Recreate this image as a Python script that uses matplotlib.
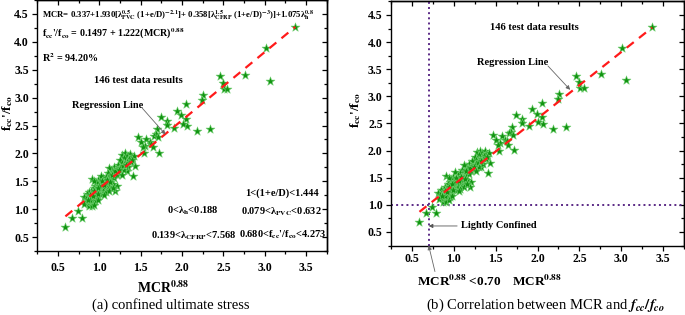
import matplotlib
matplotlib.use("Agg")
import matplotlib.pyplot as plt
import numpy as np
from matplotlib.ticker import MultipleLocator

plt.rcParams["font.family"] = ["Liberation Serif", "DejaVu Serif"]
plt.rcParams["font.weight"] = "bold"
plt.rcParams["mathtext.fontset"] = "stix"

# MCR^0.88 values and normalised confined stress f'cc/f'co (146 specimens)
mcr88 = [
    3.37, 3.01, 3.06, 2.76, 2.46, 2.49, 2.51, 2.55, 2.26, 2.24,
    2.05, 1.94, 1.99, 2.05, 2.06, 2.01, 2.18, 2.34, 1.90, 1.74,
    1.82, 1.82, 1.70, 1.68, 1.66, 1.71, 1.47, 1.51, 1.57, 1.61,
    1.55, 1.63, 1.53, 1.65, 1.72, 1.54,
    0.59, 0.67, 0.79, 0.74,
    1.28, 1.31, 1.34, 1.37, 1.39, 1.36, 1.30, 1.25, 1.42, 1.33, 1.27,
    1.43, 1.41, 1.33, 1.22, 1.18, 1.20, 1.25, 1.29, 1.15, 1.12,
    1.17, 1.23, 1.30, 1.35, 1.10, 1.13, 1.08, 1.21,
    1.05, 1.02, 0.99, 1.06, 1.10, 1.14, 1.18, 1.21, 1.19, 1.16,
    1.03, 1.00, 0.97, 1.08, 1.12, 0.95, 1.01, 1.04, 0.91, 0.94, 1.07, 1.11,
    0.93, 0.96, 0.99, 1.02, 1.05, 0.90, 0.88, 0.92, 0.95, 0.98,
    1.01, 0.85, 0.87, 0.90, 0.93, 0.96, 1.00, 1.04, 0.97, 0.94,
    0.81, 0.84, 0.89, 1.08, 1.12,
    0.87, 0.90, 0.92, 0.88, 0.87, 0.91, 0.95, 0.85, 0.82, 0.94, 0.89, 0.98,
    1.00, 1.03, 1.06, 0.98, 1.09, 1.13, 1.15, 1.19, 1.24, 1.27,
    1.32, 1.38, 1.40, 0.92, 0.86, 0.99, 1.06, 1.16,
]
stress_ratio = [
    4.27, 3.89, 3.30, 3.41, 3.38, 3.26, 3.15, 3.15, 3.04, 2.95,
    2.88, 2.76, 2.68, 2.61, 2.49, 2.53, 2.40, 2.43, 2.46, 2.65,
    2.58, 2.51, 2.44, 2.35, 2.32, 2.29, 2.29, 2.20, 2.26, 2.20,
    2.14, 2.17, 2.11, 2.11, 2.01, 2.00,
    0.68, 0.85, 0.85, 0.96,
    1.98, 2.00, 1.96, 1.99, 1.93, 1.90, 1.92, 1.88, 1.95, 1.85, 1.82,
    1.77, 1.59, 1.69, 1.80, 1.76, 1.72, 1.74, 1.78, 1.70, 1.73,
    1.66, 1.66, 1.70, 1.75, 1.64, 1.60, 1.58, 1.62,
    1.55, 1.60, 1.52, 1.48, 1.50, 1.54, 1.56, 1.42, 1.33, 1.45,
    1.44, 1.45, 1.47, 1.42, 1.40, 1.42, 1.40, 1.38, 1.54, 1.50, 1.36, 1.45,
    1.38, 1.35, 1.33, 1.30, 1.32, 1.33, 1.30, 1.28, 1.26, 1.24,
    1.27, 1.27, 1.22, 1.20, 1.18, 1.21, 1.36, 1.41, 1.30, 1.32,
    1.21, 1.18, 1.25, 1.30, 1.33,
    1.15, 1.12, 1.10, 1.08, 1.06, 1.06, 1.14, 1.12, 1.10, 1.08, 1.17, 1.17,
    1.42, 1.50, 1.44, 1.38, 1.52, 1.48, 1.62, 1.68, 1.70, 1.62,
    1.80, 1.84, 1.88, 1.24, 1.16, 1.28, 1.26, 1.38,
]

# regression f'cc/f'co = a + b * MCR^0.88
reg_a, reg_b = 0.1497, 1.222
reg_range = [0.59, 3.37]
mcr_limit = 0.70
ratio_limit = 1.0

W, H = 685, 315


def fx(px):
    return px / W


def fy(py):
    return 1 - py / H


fig = plt.figure(figsize=(6.85, 3.15), dpi=100)
ax_a = fig.add_axes([fx(37.3), fy(251), fx(326.7) - fx(37.3), fy(0) - fy(251)])
ax_b = fig.add_axes([fx(391), fy(245.5), fx(684) - fx(391), fy(1.4) - fy(245.5)])


def draw_panel(ax, label_pad):
    xr = np.array(reg_range)
    ax.scatter(mcr88, stress_ratio, marker="*", s=45, c="#129412",
               edgecolors="#6fcf6f", linewidths=0.4, zorder=2)
    ax.plot(xr, reg_a + reg_b * xr, color="#ff1a1a", lw=1.6,
            dashes=(4, 3), zorder=3)
    ax.set_xlim(0.25, 3.75)
    ax.set_ylim(0.25, 4.75)
    ax.xaxis.set_major_locator(MultipleLocator(0.5))
    ax.xaxis.set_minor_locator(MultipleLocator(0.25))
    ax.yaxis.set_major_locator(MultipleLocator(0.5))
    ax.yaxis.set_minor_locator(MultipleLocator(0.25))
    ax.tick_params(which="both", direction="out", width=0.9, labelsize=8.5)
    ax.tick_params(which="major", length=3.5)
    ax.tick_params(which="minor", length=2)
    ax.tick_params(axis="x", pad=label_pad)
    ax.tick_params(axis="y", pad=2.5)
    # ticks on top and right point inwards
    sec_x = ax.secondary_xaxis("top")
    sec_y = ax.secondary_yaxis("right")
    for sec in (sec_x, sec_y):
        sec.tick_params(which="both", direction="in", width=0.9,
                        labelleft=False, labelright=False,
                        labeltop=False, labelbottom=False)
        sec.tick_params(which="major", length=3.5)
        sec.tick_params(which="minor", length=2)
        sec.spines[:].set_linewidth(1.0)
    sec_x.xaxis.set_major_locator(MultipleLocator(0.5))
    sec_x.xaxis.set_minor_locator(MultipleLocator(0.25))
    sec_y.yaxis.set_major_locator(MultipleLocator(0.5))
    sec_y.yaxis.set_minor_locator(MultipleLocator(0.25))
    for s in ax.spines.values():
        s.set_linewidth(1.0)
    for lab in ax.get_xticklabels() + ax.get_yticklabels():
        lab.set_fontweight("bold")


draw_panel(ax_a, 4.5)
draw_panel(ax_b, 2.2)

# ---- panel (a) ----
ax_a.text(0.306, 4.48,
          r"MCR= 0.337+1.930[λ$_{\mathbf{PVC}}^{\mathbf{0.5}}$ (1+e/D)$^{\mathbf{-2.1}}$]"
          r"+ 0.358[λ$_{\mathbf{CFRP}}^{\mathbf{1.5}}$ (1+e/D)$^{\mathbf{-3}}$)]"
          r"+1.075λ$_{\mathbf{h}}^{\mathbf{0.8}}$",
          fontsize=6.3, va="center", ha="left")
ax_a.text(0.306, 4.14,
          r"f$_{\mathbf{cc}}$'/f$_{\mathbf{co}}$ = 0.1497 + 1.222(MCR)$^{\mathbf{0.88}}$",
          fontsize=7.2, va="center")
ax_a.text(0.306, 3.71, r"R$^{\mathbf{2}}$ = 94.20%", fontsize=7.3, va="center")
ax_a.text(0.935, 3.30, "146 test data results", fontsize=7.6, va="center")
ax_a.text(0.67, 2.85, "Regression Line", fontsize=7.5, va="center")
ax_a.annotate("", xy=(1.80, 2.34), xytext=(1.52, 2.81),
              arrowprops=dict(arrowstyle="-|>", color="#666666", lw=0.6,
                              mutation_scale=6, shrinkA=0, shrinkB=0))
ax_a.text(2.76, 1.29, "1<(1+e/D)<1.444", fontsize=7.5, va="center")
ax_a.text(1.82, 0.97, r"0<λ$_{\mathbf{h}}$<0.188", fontsize=7.5, va="center")
ax_a.text(2.71, 0.95, r"0.079<λ$_{\mathbf{PVC}}$<0.632", fontsize=7.5, va="center")
ax_a.text(1.625, 0.52, r"0.139<λ$_{\mathbf{CFRP}}$<7.568", fontsize=7.5, va="center")
ax_a.text(2.69, 0.54, r"0.680<f$_{\mathbf{cc}}$'/f$_{\mathbf{co}}$<4.273",
          fontsize=7.5, va="center")

ylab = r"f$_{\mathbf{cc}}$'/f$_{\mathbf{co}}$"
xlab = r"MCR$^{\mathbf{0.88}}$"
fig.text(fx(8), fy(113), ylab, rotation=90, fontsize=9.5, ha="center", va="center")
fig.text(fx(163), fy(288), xlab, fontsize=10, ha="center", va="center")
fig.text(fx(171), fy(305), "(a) confined ultimate stress", fontsize=10.5,
         fontweight="normal", ha="center", va="center")

# ---- panel (b) ----
lim_kw = dict(color="#5b2a86", lw=1.4, ls=":", zorder=1)
ax_b.axvline(mcr_limit, **lim_kw)
ax_b.axhline(ratio_limit, **lim_kw)
ax_b.text(1.43, 4.26, "146 test data results", fontsize=7.6, va="center")
ax_b.text(1.28, 3.63, "Regression Line", fontsize=7.5, va="center")
ax_b.annotate("", xy=(2.39, 3.12), xytext=(2.125, 3.56),
              arrowprops=dict(arrowstyle="-|>", color="#666666", lw=0.6,
                              mutation_scale=6, shrinkA=0, shrinkB=0))
ax_b.text(1.085, 0.61, "Lightly Confined", fontsize=7.5, va="center")
ax_b.annotate("", xy=(mcr_limit, 0.61), xytext=(1.04, 0.61),
              arrowprops=dict(arrowstyle="-|>", color="#555555", lw=0.6,
                              mutation_scale=6, shrinkA=0, shrinkB=0))
ax_b.annotate("", xy=(mcr_limit, 0.25), xytext=(0.775, -0.23),
              annotation_clip=False,
              arrowprops=dict(arrowstyle="-|>", color="#666666", lw=0.6,
                              mutation_scale=6, shrinkA=0, shrinkB=0))
fig.text(fx(417), fy(281), r"MCR$^{\mathbf{0.88}}$ <0.70", fontsize=9.5,
         ha="left", va="center")
fig.text(fx(356), fy(110), ylab, rotation=90, fontsize=9.5, ha="center", va="center")
fig.text(fx(537), fy(281), xlab, fontsize=9.5, ha="center", va="center")
fig.text(fx(545), fy(305), r"(b) Correlation between MCR and $f_{cc}/f_{co}$",
         fontsize=10.5, fontweight="normal", ha="center", va="center")

fig.savefig("out.png", dpi=100)
